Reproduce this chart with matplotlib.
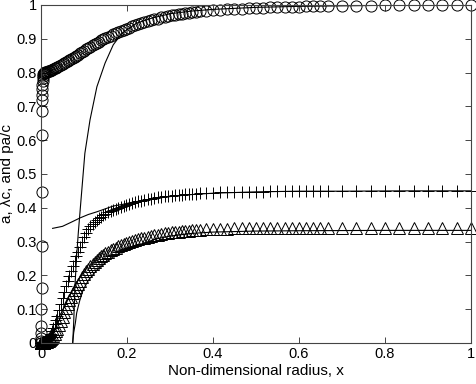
import numpy as np
import matplotlib.pyplot as plt

plt.rcParams['font.family'] = ['Liberation Sans', 'DejaVu Sans']

# shared x grid of the marker series
x_grid = [0, 0.0002, 0.0004, 0.0006, 0.0008, 0.001, 0.0012, 0.0014, 0.0016, 0.0018,
          0.002, 0.0023, 0.0026, 0.003, 0.0034, 0.0038, 0.0043, 0.0048, 0.0054, 0.006,
          0.007, 0.008, 0.009, 0.010, 0.012, 0.014, 0.016, 0.018, 0.020, 0.023,
          0.026, 0.029, 0.032, 0.035, 0.038, 0.042, 0.046, 0.050, 0.054, 0.058,
          0.062, 0.066, 0.070, 0.074, 0.078, 0.082, 0.086, 0.090, 0.095, 0.100,
          0.105, 0.110, 0.115, 0.120, 0.125, 0.130, 0.135, 0.140, 0.145, 0.150,
          0.156, 0.162, 0.168, 0.174, 0.180, 0.186, 0.192, 0.198, 0.205, 0.212,
          0.219, 0.226, 0.233, 0.240, 0.248, 0.256, 0.264, 0.272, 0.280, 0.288,
          0.296, 0.304, 0.312, 0.320, 0.328, 0.336, 0.344, 0.352, 0.360, 0.370,
          0.383, 0.400, 0.417, 0.433, 0.450, 0.467, 0.483, 0.500, 0.517, 0.533,
          0.550, 0.567, 0.583, 0.600, 0.617, 0.633, 0.650, 0.667, 0.700, 0.733,
          0.767, 0.800, 0.833, 0.867, 0.900, 0.933, 0.967, 1.0]

y_circle = [0.0, 0.005, 0.015, 0.03, 0.05, 0.1, 0.163, 0.287, 0.448, 0.615,
            0.687, 0.72, 0.735, 0.75, 0.763, 0.775, 0.785, 0.79, 0.795, 0.798,
            0.799, 0.8, 0.8, 0.801, 0.802, 0.803, 0.804, 0.805, 0.806, 0.807,
            0.809, 0.811, 0.813, 0.815, 0.817, 0.82, 0.823, 0.826, 0.829, 0.832,
            0.835, 0.838, 0.841, 0.844, 0.847, 0.850, 0.853, 0.857, 0.861, 0.865,
            0.869, 0.873, 0.877, 0.881, 0.884, 0.888, 0.891, 0.895, 0.898, 0.902,
            0.906, 0.909, 0.913, 0.916, 0.919, 0.923, 0.926, 0.93, 0.933, 0.937,
            0.94, 0.943, 0.946, 0.949, 0.952, 0.955, 0.958, 0.96, 0.963, 0.965,
            0.967, 0.969, 0.971, 0.972, 0.974, 0.975, 0.977, 0.978, 0.979, 0.981,
            0.982, 0.984, 0.986, 0.987, 0.988, 0.989, 0.99, 0.991, 0.992, 0.993,
            0.994, 0.994, 0.995, 0.995, 0.996, 0.996, 0.997, 0.997, 0.998, 0.998,
            0.998, 0.999, 0.999, 0.999, 0.999, 1.0, 1.0, 1.0]

y_plus = [0, 0, 0, 0, 0, 0, 0, 0, 0, 0,
          0.001, 0.001, 0.001, 0.001, 0.002, 0.002, 0.002, 0.002, 0.003, 0.003,
          0.003, 0.004, 0.005, 0.006, 0.008, 0.01, 0.013, 0.016, 0.02, 0.027,
          0.035, 0.044, 0.055, 0.067, 0.08, 0.097, 0.115, 0.133, 0.15, 0.167,
          0.183, 0.199, 0.214, 0.229, 0.243, 0.257, 0.27, 0.283, 0.298, 0.312,
          0.325, 0.336, 0.345, 0.352, 0.358, 0.364, 0.369, 0.374, 0.378, 0.382,
          0.386, 0.39, 0.394, 0.397, 0.4, 0.403, 0.406, 0.409, 0.412, 0.414,
          0.417, 0.419, 0.421, 0.423, 0.425, 0.427, 0.429, 0.431, 0.432, 0.434,
          0.435, 0.436, 0.437, 0.438, 0.439, 0.44, 0.441, 0.442, 0.442, 0.443,
          0.444, 0.445, 0.446, 0.446, 0.447, 0.447, 0.448, 0.448, 0.448, 0.449,
          0.449, 0.449, 0.449, 0.449, 0.449, 0.449, 0.449, 0.449, 0.45, 0.45,
          0.45, 0.45, 0.45, 0.45, 0.45, 0.45, 0.45, 0.45]

y_tri = [0, 0, 0, 0, 0, 0, 0, 0, 0, 0,
         0, 0, 0, 0, 0, 0, 0, 0, 0, 0,
         0.001, 0.001, 0.002, 0.002, 0.003, 0.004, 0.005, 0.007, 0.009, 0.012,
         0.016, 0.021, 0.027, 0.034, 0.042, 0.053, 0.065, 0.078, 0.091, 0.104,
         0.115, 0.126, 0.137, 0.147, 0.157, 0.166, 0.175, 0.184, 0.194, 0.203,
         0.212, 0.22, 0.227, 0.234, 0.24, 0.246, 0.251, 0.256, 0.261, 0.265,
         0.27, 0.274, 0.278, 0.282, 0.286, 0.289, 0.292, 0.295, 0.298, 0.301,
         0.304, 0.307, 0.309, 0.311, 0.314, 0.316, 0.318, 0.32, 0.322, 0.324,
         0.325, 0.327, 0.328, 0.329, 0.33, 0.331, 0.332, 0.333, 0.334, 0.335,
         0.336, 0.337, 0.338, 0.338, 0.339, 0.339, 0.34, 0.34, 0.34, 0.34,
         0.341, 0.341, 0.341, 0.341, 0.341, 0.341, 0.341, 0.341, 0.341, 0.341,
         0.341, 0.341, 0.341, 0.341, 0.341, 0.341, 0.341, 0.341]

# solid reference curves
x_lineA = [0.0737, 0.076, 0.079, 0.083, 0.087, 0.093, 0.102, 0.114, 0.13, 0.149,
           0.168, 0.188, 0.222, 0.26, 0.3, 0.35, 0.4, 0.5, 0.6, 0.8, 1.0]
y_lineA = [0.0, 0.06, 0.17, 0.26, 0.33, 0.423, 0.561, 0.66, 0.758, 0.828,
           0.882, 0.916, 0.946, 0.962, 0.974, 0.982, 0.987, 0.993, 0.996, 0.999, 1.0]

x_lineB = [0.027, 0.05, 0.07, 0.091, 0.11, 0.13, 0.15, 0.168, 0.19, 0.207,
           0.24, 0.269, 0.3, 0.35, 0.4, 0.5, 0.6, 0.7, 0.85, 1.0]
y_lineB = [0.339, 0.345, 0.357, 0.37, 0.38, 0.388, 0.397, 0.405, 0.41, 0.415,
           0.422, 0.428, 0.433, 0.439, 0.443, 0.447, 0.449, 0.449, 0.45, 0.45]

x_lineC = [0.0737, 0.076, 0.08, 0.083, 0.09, 0.098, 0.11, 0.13, 0.15, 0.168,
           0.19, 0.207, 0.24, 0.269, 0.3, 0.35, 0.4, 0.5, 0.6, 0.8, 1.0]
y_lineC = [0.0, 0.03, 0.06, 0.089, 0.125, 0.157, 0.185, 0.216, 0.238, 0.255,
           0.27, 0.28, 0.296, 0.308, 0.316, 0.324, 0.328, 0.331, 0.332, 0.333, 0.333]

fig = plt.figure(figsize=(4.77, 3.84), dpi=100)
ax = fig.add_axes([0.086, 0.107, 0.901, 0.880])

ax.plot(x_lineA, y_lineA, color='k', lw=0.8)
ax.plot(x_lineB, y_lineB, color='k', lw=0.8)
ax.plot(x_lineC, y_lineC, color='k', lw=0.8)

ax.plot(x_grid, y_circle, linestyle='none', marker='o', ms=8, mfc='none',
        mec='k', mew=0.7, clip_on=False)
ax.plot(x_grid, y_plus, linestyle='none', marker='+', ms=8, mec='k', mew=0.7,
        clip_on=False)
ax.plot(x_grid, y_tri, linestyle='none', marker='^', ms=8, mfc='none',
        mec='k', mew=0.7, clip_on=False)

ax.set_xlim(0, 1)
ax.set_ylim(0, 1)
ax.set_xticks(np.arange(0, 1.01, 0.2))
ax.set_xticklabels(['0', '0.2', '0.4', '0.6', '0.8', '1'])
ax.set_yticks(np.arange(0, 1.01, 0.1))
ax.set_yticklabels(['0', '0.1', '0.2', '0.3', '0.4', '0.5', '0.6', '0.7', '0.8', '0.9', '1'])
ax.tick_params(direction='in', top=True, right=True, length=4, width=0.7,
               color='#444444', labelsize=10.5, pad=3)
for s in ax.spines.values():
    s.set_linewidth(0.8)
    s.set_color('#444444')

ax.set_xlabel('Non-dimensional radius, x', fontsize=11, labelpad=2)
ax.set_ylabel('a, λc, and pa/c', fontsize=11, labelpad=2)

fig.savefig('out.png', dpi=100)
